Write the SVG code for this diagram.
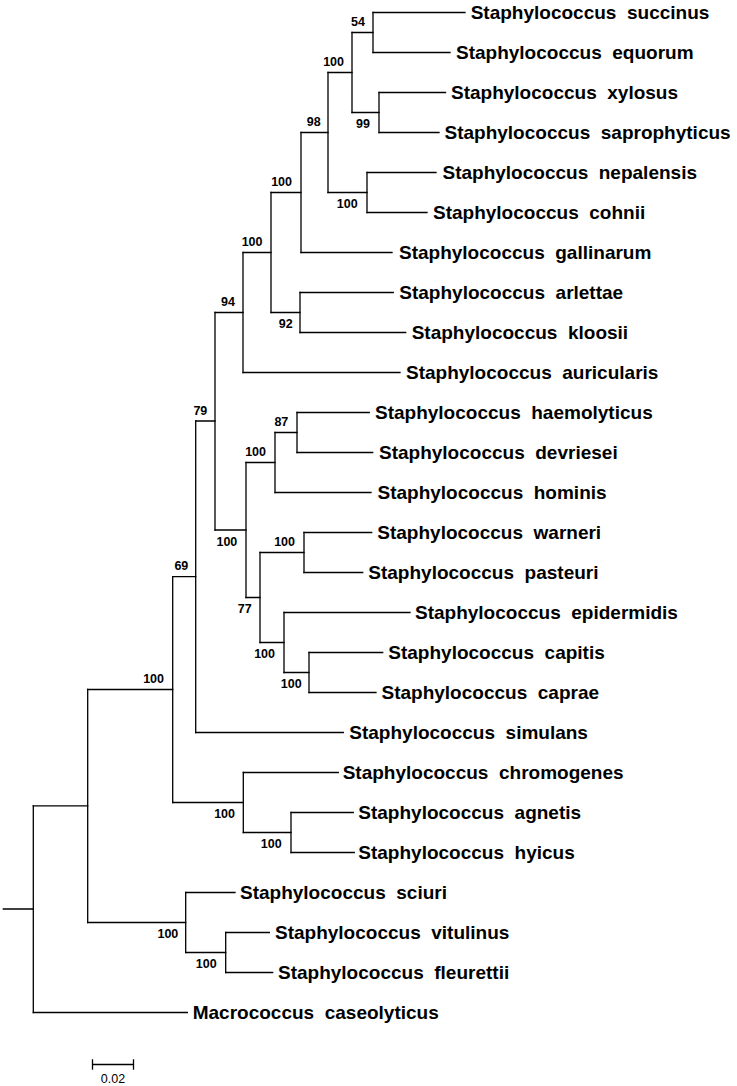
<svg xmlns="http://www.w3.org/2000/svg" width="737" height="1086" viewBox="0 0 737 1086">
<style>
.br{fill:none;stroke:#000;stroke-width:1.3;stroke-linecap:square}
.lf{font-family:"Liberation Sans",Arial,sans-serif;font-weight:bold;font-size:19px;fill:#000;white-space:pre}
.bs{font-family:"Liberation Sans",Arial,sans-serif;font-weight:bold;font-size:12.5px;fill:#000;text-anchor:end}
.sc{font-family:"Liberation Sans",Arial,sans-serif;font-size:12.5px;fill:#000;text-anchor:middle}
</style>
<rect width="737" height="1086" fill="#fff"/>
<g id="connectors" class="br">
<!-- leaves -->
<path d="M373 12.5H465M373 52.5H450M379 92.5H445.5M379 132.5H439M367 172.5H436M367 212.5H427M301 252.5H392M300 292.5H393.3M300 332.5H405.7M243 372.5H400"/>
<path d="M297 412.5H369.3M297 452.5H372.7M275 492.5H371M304 532.5H371.7M304 572.5H362.7M284 612.5H410M309 652.5H382.7M309 692.5H376M195.7 732.5H343.3"/>
<path d="M243.3 772.5H338.3M291 812.5H353.3M291 852.5H354.3M185.7 892.5H235M225.7 932.5H269.3M225.7 972.5H272.7M33.3 1012.5H187.3"/>
<!-- internal verticals -->
<path d="M373 12.5V52.5M379 92.5V132.5M352 32.5V112.5M367 172.5V212.5M328 72.5V192.5M301 132.5V252.5M300 292.5V332.5M271 192.5V312.5M243 252.5V372.5"/>
<path d="M297 412.5V452.5M275 432.5V492.5M304 532.5V572.5M309 652.5V692.5M284 612.5V672.5M260 552.5V642.5M246 462.5V597.5M215 312.5V530M195.7 421V732.5"/>
<path d="M291 812.5V852.5M243.3 772.5V832.5M172.7 576.7V802.5M225.7 932.5V972.5M185.7 892.5V952.5M87.7 689.5V922.5M33.3 805.8V1012.5"/>
<!-- internal stems -->
<path d="M352 32.5H373M352 112.5H379M328 72.5H352M328 192.5H367M301 132.5H328M271 192.5H301M271 312.5H300M243 252.5H271M215 312.5H243"/>
<path d="M275 432.5H297M246 462.5H275M260 552.5H304M284 672.5H309M260 642.5H284M246 597.5H260M215 530H246M195.7 421H215M172.7 576.7H195.7"/>
<path d="M243.3 832.5H291M172.7 802.5H243.3M87.7 689.5H172.7M185.7 952.5H225.7M87.7 922.5H185.7M33.3 805.8H87.7M3.3 909H33.3"/>
</g>
<g id="leaf-succinus"><text class="lf" x="470.7" y="19" xml:space="preserve">Staphylococcus  succinus</text></g>
<g id="leaf-equorum"><text class="lf" x="456" y="59" xml:space="preserve">Staphylococcus  equorum</text></g>
<g id="leaf-xylosus"><text class="lf" x="451" y="99" xml:space="preserve">Staphylococcus  xylosus</text></g>
<g id="leaf-saprophyticus"><text class="lf" x="444.5" y="139" xml:space="preserve">Staphylococcus  saprophyticus</text></g>
<g id="leaf-nepalensis"><text class="lf" x="442.5" y="179" xml:space="preserve">Staphylococcus  nepalensis</text></g>
<g id="leaf-cohnii"><text class="lf" x="433" y="219" xml:space="preserve">Staphylococcus  cohnii</text></g>
<g id="leaf-gallinarum"><text class="lf" x="399" y="259" xml:space="preserve">Staphylococcus  gallinarum</text></g>
<g id="leaf-arlettae"><text class="lf" x="399.3" y="299" xml:space="preserve">Staphylococcus  arlettae</text></g>
<g id="leaf-kloosii"><text class="lf" x="411.7" y="339" xml:space="preserve">Staphylococcus  kloosii</text></g>
<g id="leaf-auricularis"><text class="lf" x="406" y="379" xml:space="preserve">Staphylococcus  auricularis</text></g>
<g id="leaf-haemolyticus"><text class="lf" x="375" y="419" xml:space="preserve">Staphylococcus  haemolyticus</text></g>
<g id="leaf-devriesei"><text class="lf" x="379" y="459" xml:space="preserve">Staphylococcus  devriesei</text></g>
<g id="leaf-hominis"><text class="lf" x="377.5" y="499" xml:space="preserve">Staphylococcus  hominis</text></g>
<g id="leaf-warneri"><text class="lf" x="377.3" y="539" xml:space="preserve">Staphylococcus  warneri</text></g>
<g id="leaf-pasteuri"><text class="lf" x="368.3" y="579" xml:space="preserve">Staphylococcus  pasteuri</text></g>
<g id="leaf-epidermidis"><text class="lf" x="415" y="619" xml:space="preserve">Staphylococcus  epidermidis</text></g>
<g id="leaf-capitis"><text class="lf" x="388.3" y="659" xml:space="preserve">Staphylococcus  capitis</text></g>
<g id="leaf-caprae"><text class="lf" x="381.5" y="699" xml:space="preserve">Staphylococcus  caprae</text></g>
<g id="leaf-simulans"><text class="lf" x="349.3" y="739" xml:space="preserve">Staphylococcus  simulans</text></g>
<g id="leaf-chromogenes"><text class="lf" x="342.7" y="779" xml:space="preserve">Staphylococcus  chromogenes</text></g>
<g id="leaf-agnetis"><text class="lf" x="358.3" y="819" xml:space="preserve">Staphylococcus  agnetis</text></g>
<g id="leaf-hyicus"><text class="lf" x="358.3" y="859" xml:space="preserve">Staphylococcus  hyicus</text></g>
<g id="leaf-sciuri"><text class="lf" x="240" y="899" xml:space="preserve">Staphylococcus  sciuri</text></g>
<g id="leaf-vitulinus"><text class="lf" x="275" y="939" xml:space="preserve">Staphylococcus  vitulinus</text></g>
<g id="leaf-fleurettii"><text class="lf" x="278" y="979" xml:space="preserve">Staphylococcus  fleurettii</text></g>
<g id="leaf-macrococcus"><text class="lf" x="192.7" y="1019" xml:space="preserve">Macrococcus  caseolyticus</text></g>
<g id="node-54"><text class="bs" x="365" y="26">54</text></g>
<g id="node-100a"><text class="bs" x="344" y="65.7">100</text></g>
<g id="node-99"><text class="bs" x="370" y="128">99</text></g>
<g id="node-98"><text class="bs" x="320.7" y="125.7">98</text></g>
<g id="node-100b"><text class="bs" x="357.7" y="207.7">100</text></g>
<g id="node-100c"><text class="bs" x="292" y="186">100</text></g>
<g id="node-100d"><text class="bs" x="262.5" y="246">100</text></g>
<g id="node-92"><text class="bs" x="292.7" y="328">92</text></g>
<g id="node-94"><text class="bs" x="235" y="306">94</text></g>
<g id="node-79"><text class="bs" x="207.3" y="415">79</text></g>
<g id="node-87"><text class="bs" x="288.3" y="425.7">87</text></g>
<g id="node-100e"><text class="bs" x="266" y="456">100</text></g>
<g id="node-100i"><text class="bs" x="237.3" y="545.7">100</text></g>
<g id="node-100f"><text class="bs" x="295" y="545.7">100</text></g>
<g id="node-77"><text class="bs" x="251.7" y="612.7">77</text></g>
<g id="node-100h"><text class="bs" x="275" y="657.7">100</text></g>
<g id="node-100g"><text class="bs" x="301.7" y="687.7">100</text></g>
<g id="node-69"><text class="bs" x="188.3" y="570">69</text></g>
<g id="node-100l"><text class="bs" x="164" y="682.7">100</text></g>
<g id="node-100j"><text class="bs" x="235" y="817.7">100</text></g>
<g id="node-100k"><text class="bs" x="281.7" y="847.7">100</text></g>
<g id="node-100m"><text class="bs" x="178.3" y="937.7">100</text></g>
<g id="node-100n"><text class="bs" x="216.7" y="967.7">100</text></g>
<g id="scale-bar">
<path class="br" d="M92.5 1064.5H133.5M92.5 1060V1069M133.5 1060V1069"/>
<text class="sc" x="113" y="1082.5">0.02</text>
</g>
</svg>
